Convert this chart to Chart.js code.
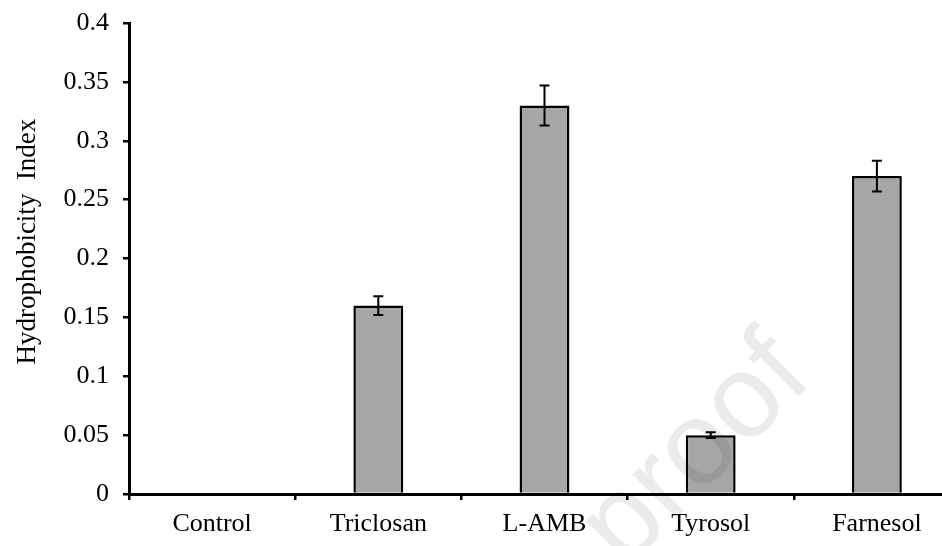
<!DOCTYPE html>
<html>
<head>
<meta charset="utf-8">
<script src="https://cdn.jsdelivr.net/npm/chart.js@4"></script>
<style>
  html, body { margin: 0; padding: 0; background: #fff; overflow: hidden; }
  #wrap { width: 960px; height: 546px; }
</style>
</head>
<body>
<div id="wrap"><canvas id="chart"></canvas></div>
<script>
// data
const categories = ['Control', 'Triclosan', 'L-AMB', 'Tyrosol', 'Farnesol'];
const hydroValues = [0, 0.16, 0.33, 0.05, 0.27];
const hydroErrors = [0, 0.008, 0.017, 0.0025, 0.013];
const yTicks = [0, 0.05, 0.1, 0.15, 0.2, 0.25, 0.3, 0.35, 0.4];
const watermarkText = 'Journal Pre-proof';

const serif = 'Liberation Serif, Times New Roman, serif';

// error bars, drawn from the data through the y scale
const errorBars = {
    id: 'errorBars',
    afterDatasetsDraw(chart) {
        const ctx = chart.ctx;
        const meta = chart.getDatasetMeta(0);
        const y = chart.scales.y;
        ctx.save();
        ctx.strokeStyle = '#000';
        ctx.lineWidth = 2;
        meta.data.forEach((bar, i) => {
            const err = hydroErrors[i];
            if (!err) return;
            const top = y.getPixelForValue(hydroValues[i] + err);
            const bot = y.getPixelForValue(hydroValues[i] - err);
            const cx = bar.x;
            ctx.beginPath();
            ctx.moveTo(cx, top); ctx.lineTo(cx, bot);
            ctx.moveTo(cx - 5, top); ctx.lineTo(cx + 5, top);
            ctx.moveTo(cx - 5, bot); ctx.lineTo(cx + 5, bot);
            ctx.stroke();
        });
        ctx.restore();
    }
};

// faint diagonal "Journal Pre-proof" watermark
const watermark = {
    id: 'watermark',
    afterDraw(chart) {
        const ctx = chart.ctx;
        ctx.save();
        ctx.globalCompositeOperation = 'multiply';
        ctx.fillStyle = '#ebebeb';
        ctx.font = '118px Liberation Sans, Arial, sans-serif';
        const ang = -Math.PI / 4;
        const ux = Math.cos(ang), uy = Math.sin(ang);
        // baseline point at the start of the last "o"
        const head = ctx.measureText(watermarkText.slice(0, -2)).width;
        const ox = 745 - head * ux, oy = 450 - head * uy;
        ctx.translate(ox, oy);
        ctx.rotate(ang);
        ctx.textAlign = 'left';
        ctx.textBaseline = 'alphabetic';
        ctx.fillText(watermarkText, 0, 0);
        ctx.restore();
    }
};

new Chart(document.getElementById('chart'), {
    type: 'bar',
    data: {
        labels: categories,
        datasets: [{
            data: hydroValues,
            backgroundColor: '#a6a6a6',
            borderColor: '#000',
            borderWidth: 2.5,
            barPercentage: 0.3,
            categoryPercentage: 1
        }]
    },
    options: {
        responsive: true,
        maintainAspectRatio: false,
        animation: false,
        layout: { padding: { top: 23, left: 12, right: 0, bottom: 0 } },
        plugins: { legend: { display: false }, tooltip: { enabled: false } },
        scales: {
            x: {
                grid: { display: true, drawOnChartArea: false, drawTicks: true, tickLength: 6, color: '#000', lineWidth: 2.5, offset: true },
                border: { color: '#000', width: 3 },
                ticks: { color: '#000', font: { family: serif, size: 26 }, padding: 9 },
                afterFit(scale) { scale.height = 52; scale.paddingLeft = 0; scale.paddingRight = 0; }
            },
            y: {
                min: 0,
                max: 0.4,
                afterBuildTicks(scale) { scale.ticks = yTicks.map(v => ({ value: v })); },
                grid: { display: true, drawOnChartArea: false, drawTicks: true, tickLength: 6, color: '#000', lineWidth: 2.5 },
                border: { color: '#000', width: 3 },
                ticks: { color: '#000', font: { family: serif, size: 26 }, padding: 14, callback: v => String(v) },
                // leading spaces nudge the centred title up a little, as in the figure
                title: { display: true, text: '     Hydrophobicity  Index', color: '#000', font: { family: serif, size: 27 }, padding: 0 },
                afterFit(scale) { scale.width = 117; scale.paddingTop = 0; scale.paddingBottom = 0; }
            }
        }
    },
    plugins: [errorBars, watermark]
});
</script>
</body>
</html>
